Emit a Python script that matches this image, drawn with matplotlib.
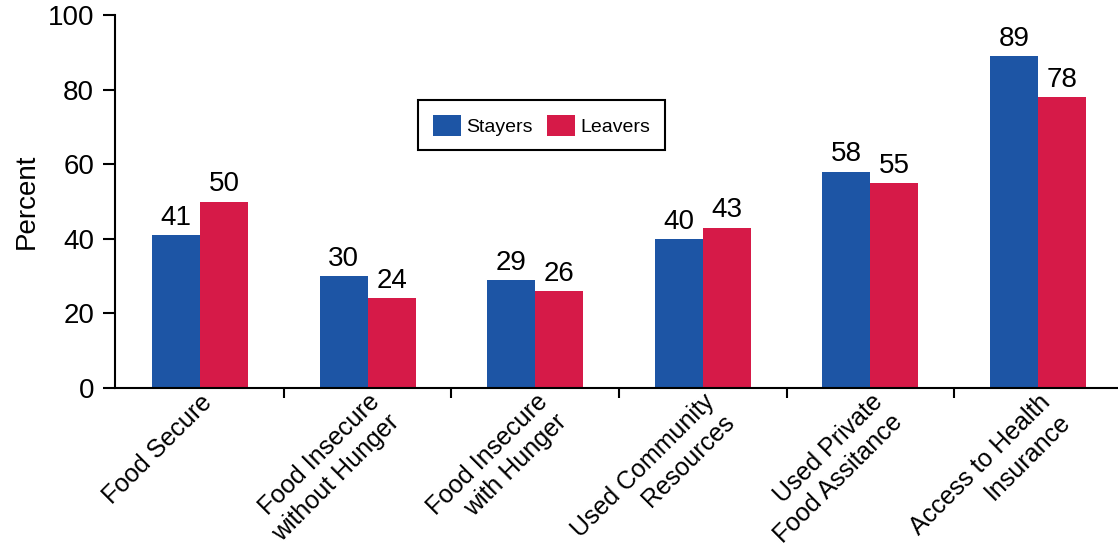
import matplotlib
matplotlib.use('Agg')
import matplotlib.pyplot as plt
import numpy as np

# chart data
categories = ['Food Secure', 'Food Insecure\nwithout Hunger', 'Food Insecure\nwith Hunger',
              'Used Community\nResources', 'Used Private\nFood Assitance', 'Access to Health\nInsurance']
stayers = [41, 30, 29, 40, 58, 89]
leavers = [50, 24, 26, 43, 55, 78]
series_names = ['Stayers', 'Leavers']
y_ticks = [0, 20, 40, 60, 80, 100]

plt.rcParams['font.family'] = ['Liberation Sans', 'DejaVu Sans']

fig = plt.figure(figsize=(11.18, 5.6), dpi=100)
ax = fig.add_axes([115 / 1118, 172 / 560, 1 - 115 / 1118, 373 / 560])

x = np.arange(len(categories))
width = 0.286
blue = '#1d55a5'
red = '#d61a48'

b1 = ax.bar(x - width / 2, stayers, width, color=blue, label=series_names[0])
b2 = ax.bar(x + width / 2, leavers, width, color=red, label=series_names[1])
ax.bar_label(b1, padding=3, fontsize=20)
ax.bar_label(b2, padding=3, fontsize=20)

ax.set_xlim(-0.507, 5.477)
ax.set_ylim(0, 100)
ax.set_yticks(y_ticks)
ax.tick_params(axis='y', labelsize=20, length=9, width=1.5, pad=6)

# ticks between groups, labels at group centers
ax.set_xticks(x[:-1] + 0.5)
ax.set_xticklabels([])
ax.tick_params(axis='x', which='major', length=7, width=1.5)
ax.set_xticks(x, categories, minor=True)
ax.tick_params(axis='x', which='minor', length=0, pad=1.5, labelsize=18)
for lbl in ax.get_xticklabels(minor=True):
    lbl.set_rotation(45)
    lbl.set_ha('right')
    lbl.set_va('top')
    lbl.set_rotation_mode('anchor')
    lbl.set_multialignment('right')
    lbl.set_linespacing(1.2)

ax.set_ylabel('Percent', fontsize=20, labelpad=6)

for side in ['top', 'right']:
    ax.spines[side].set_visible(False)
for side in ['left', 'bottom']:
    ax.spines[side].set_linewidth(1.5)

leg = ax.legend(loc='upper left', bbox_to_anchor=(418 / 1118, 1 - 100 / 560),
                bbox_transform=fig.transFigure, ncol=2, fontsize=14,
                fancybox=False, edgecolor='black', framealpha=1,
                handlelength=1.45, handleheight=1.3, handletextpad=0.3,
                columnspacing=0.7, borderpad=0.75, borderaxespad=0)
leg.get_frame().set_linewidth(1.5)

plt.savefig('out.png', dpi=100)
